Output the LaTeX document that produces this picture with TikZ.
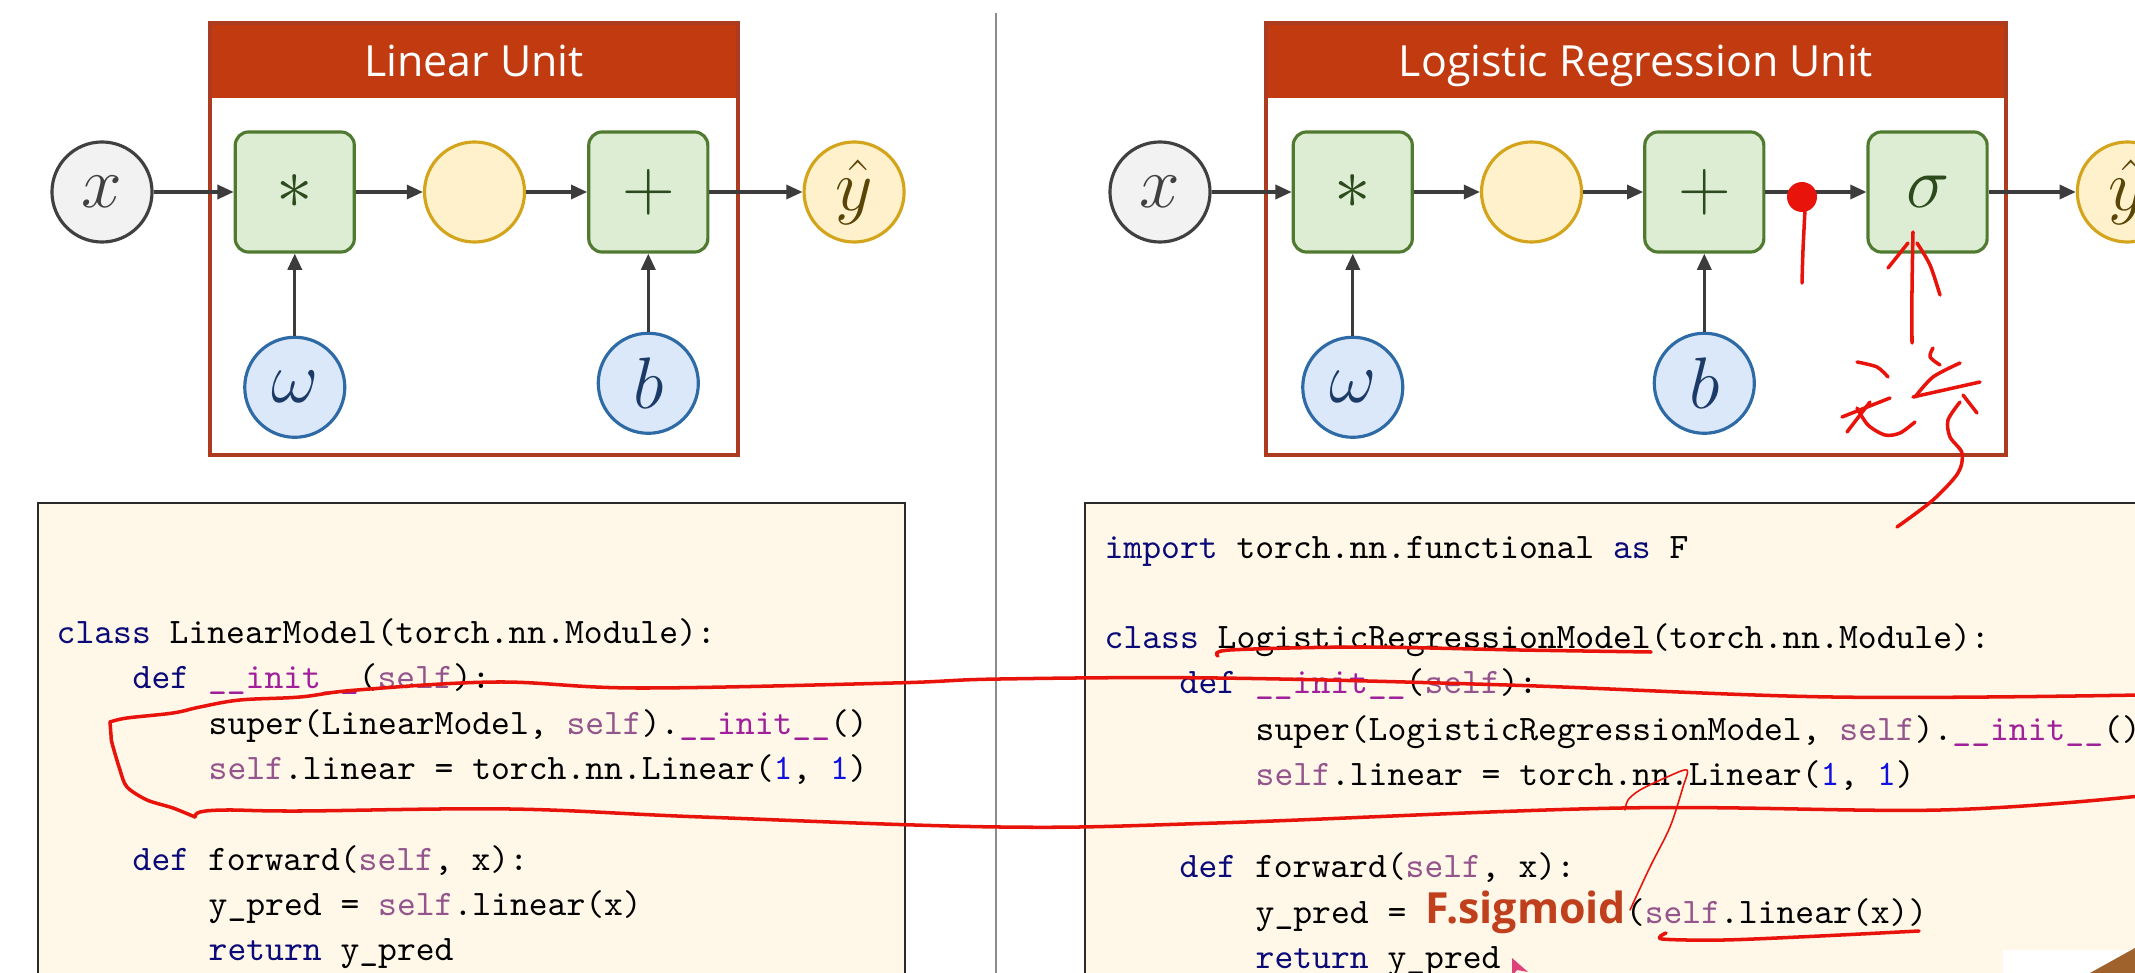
\documentclass[tikz,border=0pt]{standalone}
\usepackage{fontspec}
\usetikzlibrary{positioning,arrows.meta}

\newfontfamily\titlefont{Open Sans}
\newfontfamily\sigfont{Open Sans}

\definecolor{unitred}{HTML}{C13A10}
\definecolor{unitedge}{HTML}{AD3B20}
\definecolor{opfill}{HTML}{DCEDD4}
\definecolor{opedge}{HTML}{4F7A30}
\definecolor{opink}{HTML}{2C4A1C}
\definecolor{infill}{HTML}{F2F2F2}
\definecolor{inedge}{HTML}{404040}
\definecolor{midfill}{HTML}{FFF1CB}
\definecolor{midedge}{HTML}{D4A41C}
\definecolor{yink}{HTML}{5A4508}
\definecolor{parfill}{HTML}{DAE8FA}
\definecolor{paredge}{HTML}{2E6AA6}
\definecolor{parink}{HTML}{1B3A66}
\definecolor{wire}{HTML}{3C3C3C}
\definecolor{codebg}{HTML}{FFF8E8}
\definecolor{codeedge}{HTML}{2A2A2A}
\definecolor{kwcol}{HTML}{0A0A78}
\definecolor{selfcol}{HTML}{94558D}
\definecolor{initcol}{HTML}{A0209A}
\definecolor{numcol}{HTML}{1010E0}
\definecolor{sigcol}{HTML}{C0401E}
\definecolor{inkred}{HTML}{E8140C}
\definecolor{cursorpink}{HTML}{E0407A}
\definecolor{camwood}{HTML}{A0622D}

\newcommand{\nodemath}{\fontsize{22}{22}\selectfont}
\newcommand{\codefont}{\fontsize{10.2}{12}\selectfont\ttfamily\frenchspacing}
\newcommand{\kw}[1]{\textcolor{kwcol}{#1}}
\newcommand{\slf}[1]{\textcolor{selfcol}{#1}}
\newcommand{\ini}[1]{\textcolor{initcol}{#1}}
\newcommand{\nm}[1]{\textcolor{numcol}{#1}}
\newcommand{\sigword}[1]{{\sigfont\bfseries\fontsize{12.2}{14}\selectfont\color{sigcol}#1}}

\begin{document}
\begin{tikzpicture}[x=0.01cm,y=-0.01cm,
  every node/.style={inner sep=0pt},
  innode/.style={circle,minimum size=1cm,draw=inedge,fill=infill,line width=0.9pt,text=inedge,font=\nodemath},
  parnode/.style={circle,minimum size=1cm,draw=paredge,fill=parfill,line width=0.9pt,text=parink,font=\nodemath},
  midnode/.style={circle,minimum size=1cm,draw=midedge,fill=midfill,line width=0.9pt,text=yink,font=\nodemath},
  opnode/.style={rectangle,rounded corners=3.8pt,minimum width=1.19cm,minimum height=1.2cm,draw=opedge,fill=opfill,line width=0.9pt,text=opink,font=\nodemath},
  flow/.style={draw=wire,line width=0.9pt,-{Triangle[length=4.6pt,width=4pt]}},
  unitbox/.style={draw=unitedge,line width=0.9pt},
  unittitle/.style={anchor=base,text=white,font=\titlefont\fontsize{12.2}{14}\selectfont},
  codebox/.style={draw=codeedge,fill=codebg,line width=0.8pt},
  code/.style={anchor=base west,font=\codefont},
  ink/.style={draw=inkred,line width=1pt,line cap=round,line join=round},
  thinink/.style={draw=inkred,line width=0.45pt,line cap=round,line join=round}]

\useasboundingbox (0,0) rectangle (2135,973);
\clip (0,0) rectangle (2135,973);

% divider
\draw[black!45,line width=0.6pt] (996,13) -- (996,973);

% units
\fill[unitred] (210,23) rectangle (738,98);
\draw[unitbox] (210,23) rectangle (738,455);
\node[unittitle] (t1) at (474,77) {Linear Unit};

\fill[unitred] (1266,23) rectangle (2006,98);
\draw[unitbox] (1266,23) rectangle (2006,455);
\node[unittitle] (t2) at (1636,77) {Logistic Regression Unit};

% linear unit
\node[innode] (x1) at (102,192) {$x$};
\node[opnode, right=0.8cm of x1] (mul1) {$*$};
\node[midnode, right=0.67cm of mul1] (h1) {};
\node[opnode, right=0.61cm of h1] (add1) {$+$};
\node[midnode, right=0.93cm of add1] (y1) {$\hat{y}$};
\node[parnode, below=0.82cm of mul1] (w1) {$\omega$};
\node[parnode, below=0.78cm of add1] (b1) {$b$};

\draw[flow] (x1) -- (mul1);
\draw[flow] (mul1) -- (h1);
\draw[flow] (h1) -- (add1);
\draw[flow] (add1) -- (y1);
\draw[flow] (w1) -- (mul1);
\draw[flow] (b1) -- (add1);

% logistic regression unit
\node[innode] (x2) at (1160,192) {$x$};
\node[opnode, right=0.8cm of x2] (mul2) {$*$};
\node[midnode, right=0.66cm of mul2] (h2) {};
\node[opnode, right=0.6cm of h2] (add2) {$+$};
\node[opnode, right=1.01cm of add2] (sig2) {$\sigma$};
\node[midnode, right=0.87cm of sig2] (y2) {$\hat{y}$};
\node[parnode, below=0.82cm of mul2] (w2) {$\omega$};
\node[parnode, below=0.78cm of add2] (b2) {$b$};

\draw[flow] (x2) -- (mul2);
\draw[flow] (mul2) -- (h2);
\draw[flow] (h2) -- (add2);
\draw[flow] (add2) -- (sig2);
\draw[flow] (sig2) -- (y2);
\draw[flow] (w2) -- (mul2);
\draw[flow] (b2) -- (add2);

% code
\draw[codebox] (38,503) rectangle (905,1000);
\node[code] (cl1) at (56,643) {\kw{class} LinearModel(torch.nn.Module):};
\node[code] (cl2) at (132,688) {\kw{def} \ini{\_\_init\_\_}(\slf{self}):};
\node[code] (cl3) at (208,734) {super(LinearModel, \slf{self}).\ini{\_\_init\_\_}()};
\node[code] (cl4) at (208,779) {\slf{self}.linear = torch.nn.Linear(\nm{1}, \nm{1})};
\node[code] (cl5) at (132,870) {\kw{def} forward(\slf{self}, x):};
\node[code] (cl6) at (208,915) {y\_pred = \slf{self}.linear(x)};
\node[code] (cl7) at (208,960) {\kw{return} y\_pred};

\draw[codebox] (1085,503) rectangle (2160,1000);
\node[code] (cr1) at (1104,558) {\kw{import} torch.nn.functional \kw{as} F};
\node[code] (cr2) at (1104,648) {\kw{class} LogisticRegressionModel(torch.nn.Module):};
\node[code] (cr3) at (1179,693) {\kw{def} \ini{\_\_init\_\_}(\slf{self}):};
\node[code] (cr4) at (1255,740) {super(LogisticRegressionModel, \slf{self}).\ini{\_\_init\_\_}()};
\node[code] (cr5) at (1255,785) {\slf{self}.linear = torch.nn.Linear(\nm{1}, \nm{1})};
\node[code] (cr6) at (1179,877) {\kw{def} forward(\slf{self}, x):};
\node[code] (cr7) at (1255,923) {y\_pred = \sigword{F.sigmoid}(\slf{self}.linear(x))};
\node[code] (cr8) at (1255,968) {\kw{return} y\_pred};

% webcam corner and cursor
\fill[white] (2003,950) rectangle (2135,973);
\fill[camwood] (2090,973) -- (2135,948) -- (2135,973) -- cycle;
\fill[cursorpink] (1512,958) -- (1512,976) -- (1517,970) -- (1528,972) -- cycle;

% red pen
\draw[ink] plot[smooth,tension=0.6] coordinates {(110,722) (127,718) (173,713) (200,707) (240,700) (300,697) (357,690) (497,682) (638,688) (893,683) (1000,679) (1217,678) (1507,685) (1832,697) (2140,695)};
\draw[ink] plot[smooth] coordinates {(110,722) (111,735) (112,743) (120,770) (127,787) (147,800) (173,808) (195,817)};
\draw[ink] plot[smooth,tension=0.6] coordinates {(195,817) (200,812) (227,810) (300,811) (510,809) (702,817) (1000,827) (1217,823) (1622,808) (1941,810) (2140,796)};
\draw[ink] plot[smooth] coordinates {(1218,656) (1230,650) (1362,647) (1520,650) (1651,652)};
\draw[ink] plot[smooth] coordinates {(1666,933) (1662,939) (1724,940) (1820,936) (1919,931)};
\draw[thinink] plot[smooth] coordinates {(1630,910) (1650,867) (1670,827) (1683,787) (1687,770) (1667,777) (1640,790) (1628,800) (1625,810)};

\fill[inkred] (1802,197) circle (15);
\draw[ink] plot[smooth] coordinates {(1805,210) (1803,250) (1802,283)};

\draw[ink] plot[smooth] coordinates {(1913,232) (1912,290) (1912,343)};
\draw[ink] (1888,268) -- (1908,243);
\draw[ink] plot[smooth] coordinates {(1917,243) (1930,265) (1940,295)};

\draw[ink] plot[smooth] coordinates {(1857,362) (1877,367) (1888,377)};
\draw[ink] (1842,417) -- (1890,398);
\draw[ink] (1847,432) -- (1870,402);
\draw[ink] plot[smooth] coordinates {(1857,408) (1868,425) (1885,435) (1900,433) (1915,422)};
\draw[ink] plot[smooth] coordinates {(1933,348) (1930,357) (1940,365)};
\draw[ink] plot[smooth] coordinates {(1915,397) (1933,377) (1960,363)};
\draw[ink] (1913,397) -- (1980,382);
\draw[ink] (1963,395) -- (1977,413);
\draw[ink] plot[smooth] coordinates {(1960,402) (1948,420) (1950,437) (1962,453) (1958,473) (1933,500) (1897,527)};
\end{tikzpicture}
\end{document}
